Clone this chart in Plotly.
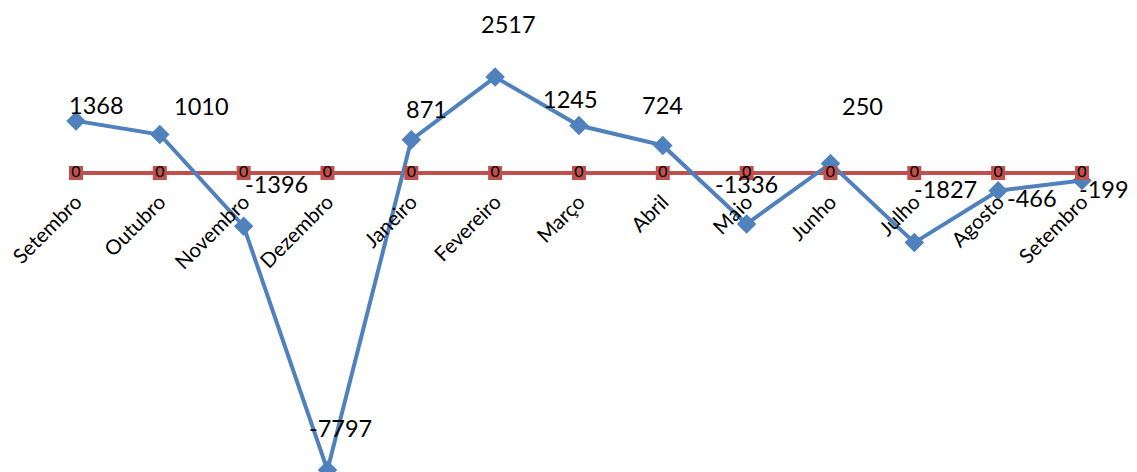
import plotly.graph_objects as go

categories = ["Setembro", "Outubro", "Novembro", "Dezembro", "Janeiro", "Fevereiro",
              "Março", "Abril", "Maio", "Junho", "Julho", "Agosto", "Setembro"]
saldo = [1368, 1010, -1396, -7797, 871, 2517, 1245, 724, -1336, 250, -1827, -466, -199]
referencia = [0, 0, 0, 0, 0, 0, 0, 0, 0, 0, 0, 0, 0]

# label offsets in pixels (style only)
label_dx = [21, 42, 33, 13, 15, 13, -8, 0, 0, 32, 31, 34, 22]
label_dy = [16, 29, 42, 42, 31, 53, 27, 40, 40, 57, 54, -7, -8]

BLUE = "#4F81BD"
RED = "#C0504D"
FONT = "Lato"

xs = list(range(len(categories)))

fig = go.Figure()
fig.add_trace(go.Scatter(x=xs, y=referencia, mode="lines",
                         line=dict(color=RED, width=4), hoverinfo="skip", showlegend=False))
fig.add_trace(go.Scatter(x=xs, y=saldo, mode="lines+markers",
                         line=dict(color=BLUE, width=4),
                         marker=dict(symbol="diamond", size=15, color=BLUE),
                         showlegend=False))
fig.add_trace(go.Scatter(x=xs, y=referencia, mode="markers+text",
                         marker=dict(symbol="square", size=14, color=RED),
                         text=[str(v) for v in referencia], textposition="middle center",
                         textfont=dict(family=FONT, size=16, color="black"),
                         showlegend=False))

for x, v, dx, dy in zip(xs, saldo, label_dx, label_dy):
    fig.add_annotation(x=x, y=v, text=str(v), showarrow=False,
                       xshift=dx, yshift=dy,
                       font=dict(family=FONT, size=23.5, color="black"))

ymin, ymax = -8058, 4331
zero_pos = (0 - ymin) / (ymax - ymin)

fig.update_layout(
    width=1137, height=472, autosize=False,
    margin=dict(l=0, r=0, t=0, b=0),
    paper_bgcolor="white", plot_bgcolor="white",
    xaxis=dict(range=[-0.811, 12.752], tickvals=xs, ticktext=categories,
               tickangle=-45, showgrid=False, zeroline=False, showline=False,
               ticks="", anchor="free", position=zero_pos, ticklabelstandoff=12,
               ticklabeloverflow="allow", automargin=False,
               tickfont=dict(family=FONT, size=20.5, color="black")),
    yaxis=dict(range=[ymin, ymax], visible=False, showgrid=False, zeroline=False,
               automargin=False),
)

fig.write_html("out.html")
